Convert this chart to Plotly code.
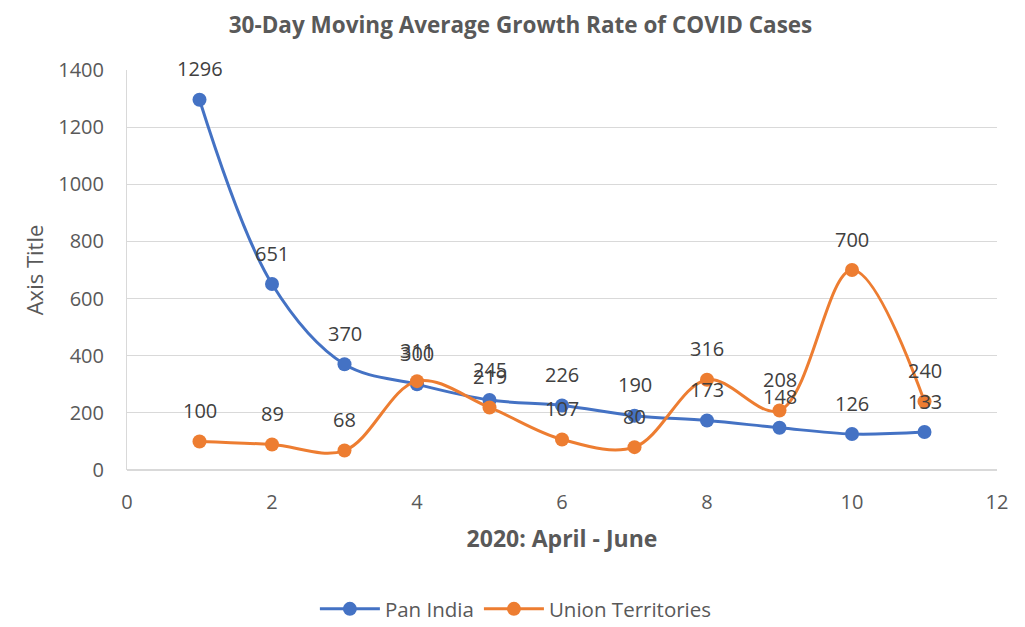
import plotly.graph_objects as go

x_vals = [1, 2, 3, 4, 5, 6, 7, 8, 9, 10, 11]
pan_india = [1296, 651, 370, 300, 245, 226, 190, 173, 148, 126, 133]
union_territories = [100, 89, 68, 311, 219, 107, 80, 316, 208, 700, 240]
series_names = ["Pan India", "Union Territories"]
colors = ["#4472C4", "#ED7D31"]

FONT = "Open Sans"
TXT = "#595959"

fig = go.Figure()
for name, ys, c in zip(series_names, [pan_india, union_territories], colors):
    fig.add_trace(go.Scatter(
        x=x_vals, y=ys, name=name, mode="lines+markers",
        line=dict(color=c, width=3, shape="spline", smoothing=1.0),
        marker=dict(color=c, size=14),
        cliponaxis=False,
    ))

annotations = []
for ys in [pan_india, union_territories]:
    for xv, yv in zip(x_vals, ys):
        annotations.append(dict(
            x=xv, y=yv, xref="x", yref="y", text=str(yv), showarrow=False,
            yanchor="middle", xanchor="center", yshift=31,
            font=dict(family=FONT, size=20, color="#404040"),
        ))

fig.update_layout(
    width=1025, height=627,
    margin=dict(l=119, r=36, t=62, b=165, autoexpand=False),
    paper_bgcolor="white", plot_bgcolor="white",
    font=dict(family=FONT, color=TXT, size=19),
    title=dict(text="<b>30-Day Moving Average Growth Rate of COVID Cases</b>",
               x=0.5, xanchor="center", y=0.973, yanchor="middle",
               font=dict(size=22.5, color=TXT, family=FONT)),
    showlegend=True,
    legend=dict(orientation="h", x=0.447, xanchor="center", y=-0.3475, yanchor="middle",
                font=dict(size=20.5, color=TXT, family=FONT), itemwidth=60),
    annotations=annotations,
    xaxis=dict(range=[0, 12], dtick=2, tick0=0, showgrid=False, zeroline=False,
               showline=False, ticks="", tickfont=dict(size=20, color=TXT),
               ticklabelstandoff=18, automargin=False,
               title=dict(text="<b>2020: April - June</b>", font=dict(size=23, color=TXT), standoff=16)),
    yaxis=dict(range=[0, 1400], dtick=200, showgrid=True, gridcolor="#D9D9D9", gridwidth=1,
               zeroline=True, zerolinecolor="#D9D9D9", showline=True, linecolor="#D9D9D9",
               ticks="", tickfont=dict(size=20, color=TXT), ticklabelstandoff=18, automargin=False,
               title=dict(text="Axis Title", font=dict(size=22, color=TXT), standoff=8)),
)

fig.write_html("out.html")
